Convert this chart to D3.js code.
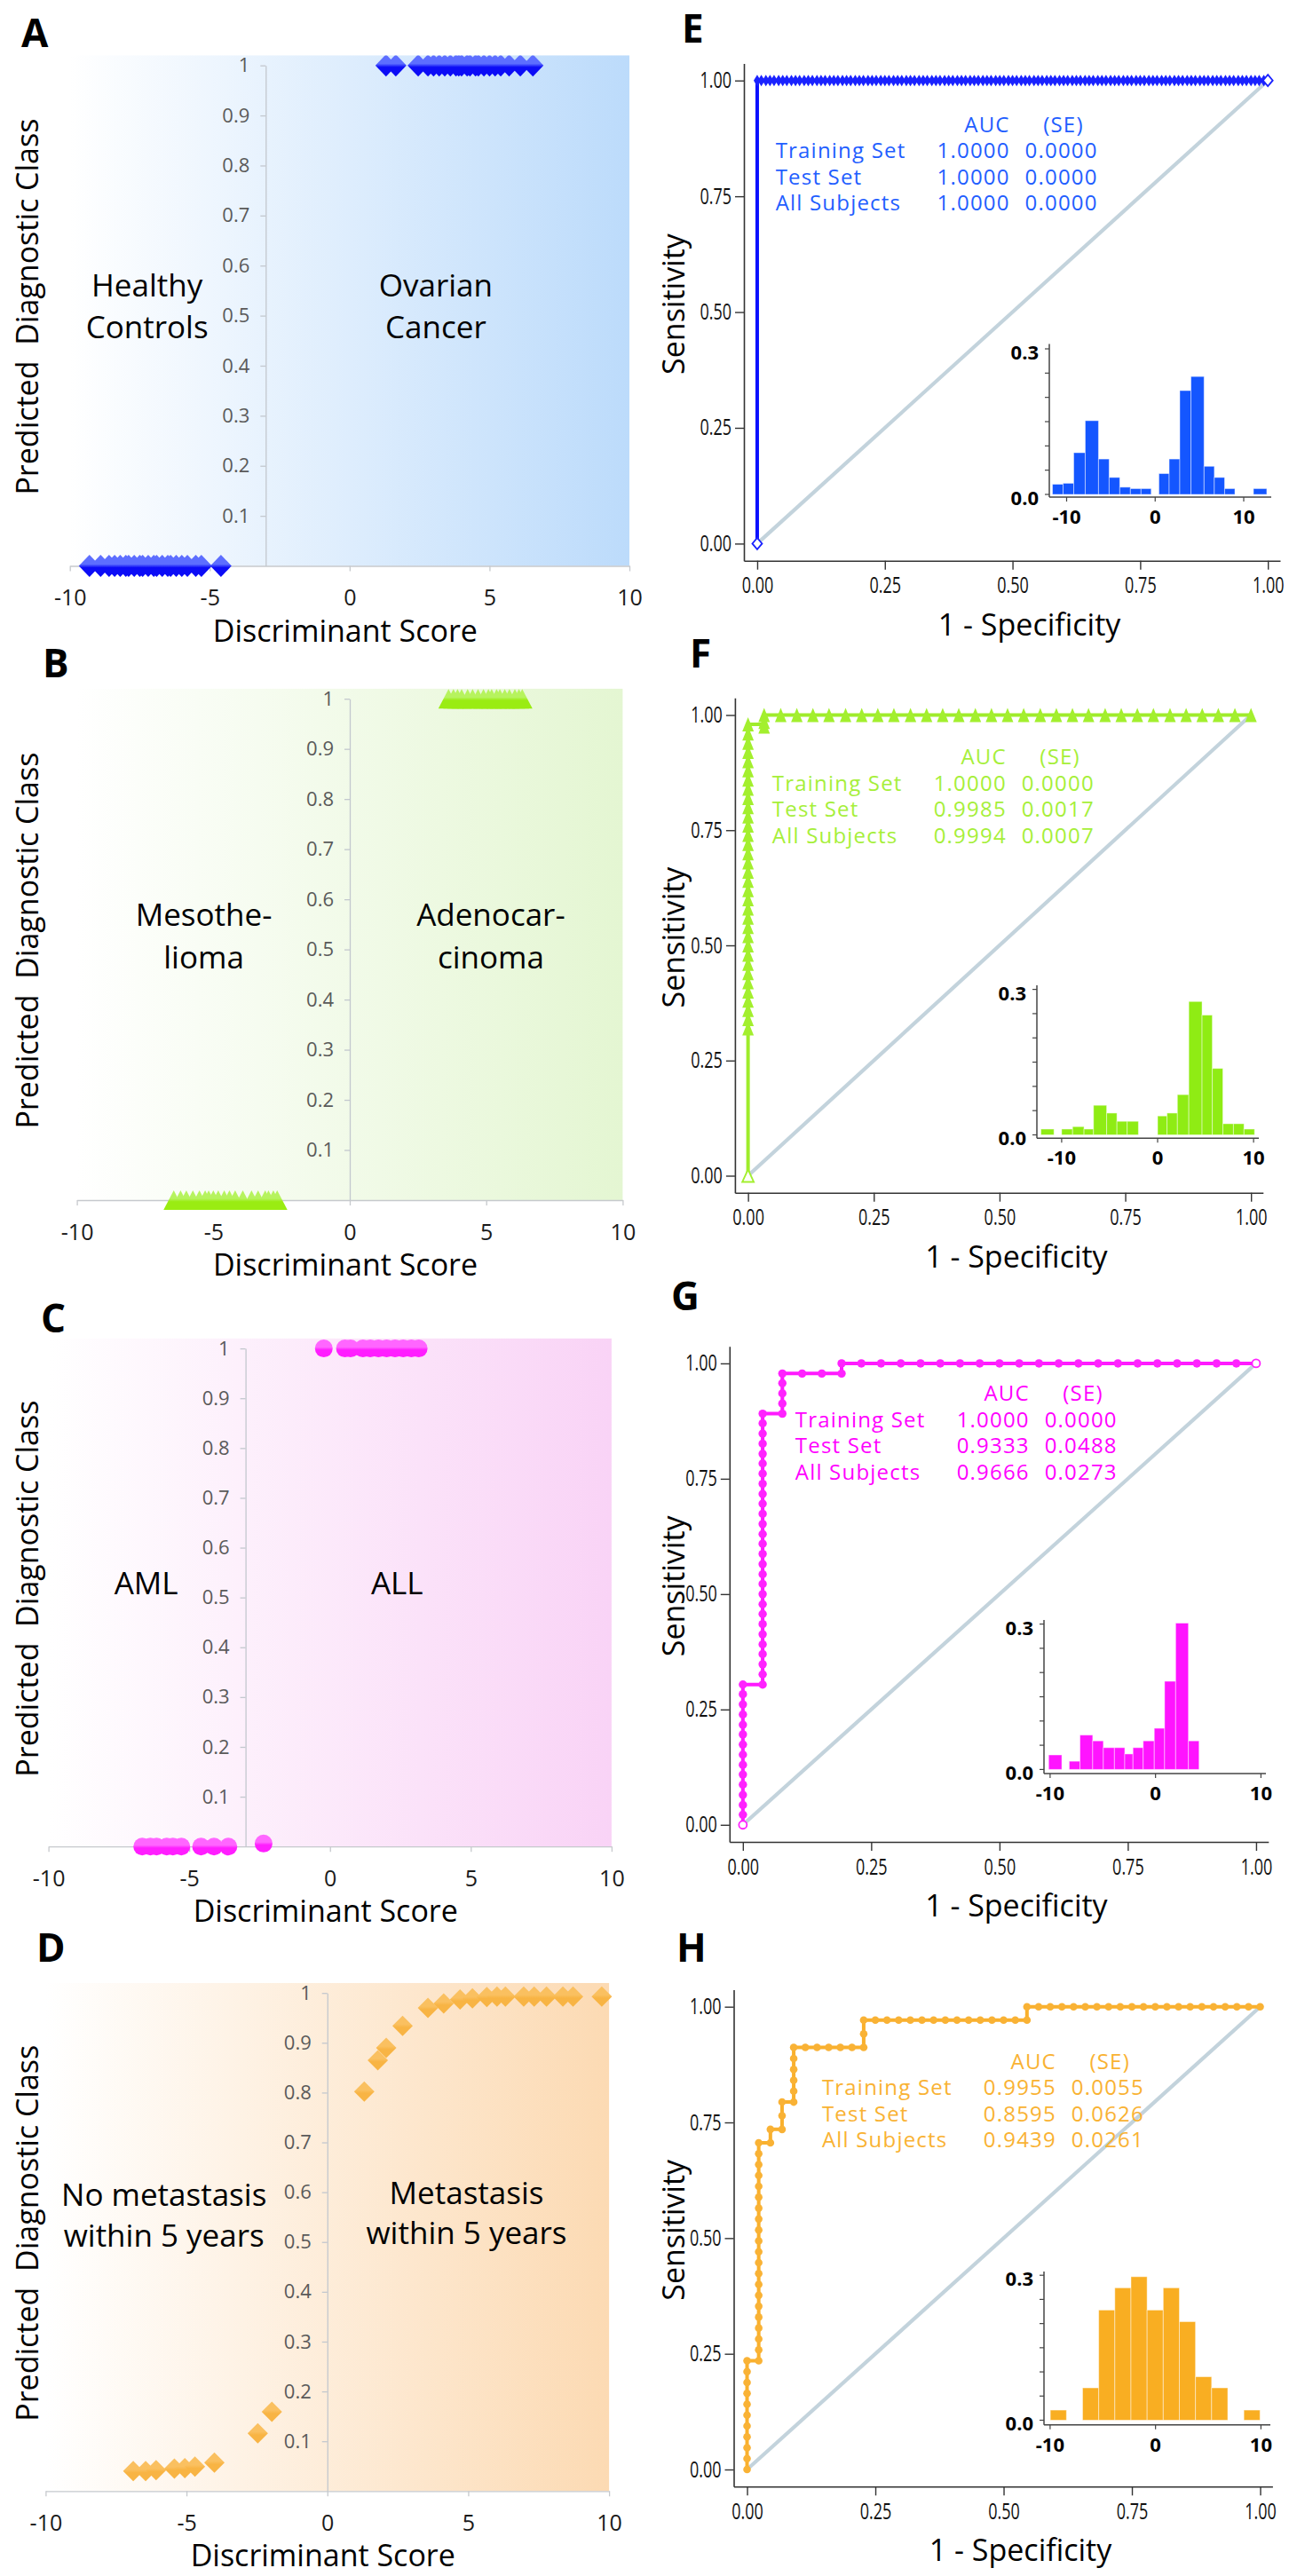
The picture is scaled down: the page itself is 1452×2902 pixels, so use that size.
<!DOCTYPE html>
<html>
<head>
<meta charset="utf-8">
<script src="https://cdn.jsdelivr.net/npm/d3@7/dist/d3.min.js"></script>
<style>
  html, body { margin:0; padding:0; background:#ffffff; }
  svg { display:block; }
  text { font-family: "Open Sans", "Noto Sans", sans-serif; }
</style>
</head>
<body>
<svg id="fig" width="1452" height="2902" viewBox="0 0 1452 2902"></svg>
<script>
// ======================= DATA =======================
const scoreTicks = [-10, -5, 0, 5, 10];
const scoreTickLabels = ["-10", "-5", "0", "5", "10"];
const classTicks = [0.1, 0.2, 0.3, 0.4, 0.5, 0.6, 0.7, 0.8, 0.9, 1];
const classTickLabels = ["0.1","0.2","0.3","0.4","0.5","0.6","0.7","0.8","0.9","1"];
const rocTicks = [0, 0.25, 0.5, 0.75, 1];
const rocTickLabels = ["0.00","0.25","0.50","0.75","1.00"];
const histXTicks = [-10, 0, 10];
const histXTickLabels = ["-10","0","10"];
const histMinorTicks = [0, 0.05, 0.1, 0.15, 0.2, 0.25, 0.3];
const histYLabelTicks = [0, 0.3];
const histYTickLabels = ["0.0","0.3"];
const aucRowNames = ["Training Set", "Test Set", "All Subjects"];
const aucHeader = ["AUC", "(SE)"];

// Panel A: ovarian cancer vs healthy controls
const healthyScores = [-9.3,-8.9,-8.6,-8.4,-8.2,-8.0,-7.9,-7.7,-7.5,-7.4,-7.2,-7.0,-6.9,-6.7,-6.5,-6.4,-6.2,-6.0,-5.8,-5.5,-5.3,-4.6];
const healthyClass = 0;
const ovarianScores = [1.3,1.65,2.45,2.8,3.0,3.2,3.4,3.6,3.8,3.9,4.0,4.2,4.3,4.5,4.6,4.8,5.0,5.2,5.4,5.7,6.1,6.55];
const ovarianClass = 1;

// Panel B: mesothelioma vs adenocarcinoma
const mesoScores = [-6.45,-6.2,-5.99,-5.75,-5.51,-5.3,-5.17,-5.0,-4.82,-4.6,-4.41,-4.2,-3.92,-3.6,-3.36,-3.1,-2.98,-2.8,-2.66];
const mesoClass = 0;
const adenoScores = [3.62,3.8,3.95,4.1,4.32,4.5,4.7,4.9,5.08,5.2,5.38,5.5,5.68,5.85,6.05,6.2,6.32];
const adenoClass = 1;

// Panel C: AML vs ALL
const amlScores = [-6.67,-6.38,-6.16,-5.8,-5.58,-5.28,-4.58,-4.12,-3.61,-2.36];
const amlClass = [0,0,0,0,0,0,0,0,0,0.006];
const allScores = [-0.22,0.53,0.73,1.17,1.43,1.72,2.01,2.31,2.6,2.89,3.15];
const allClass = 1;

// Panel D: metastasis within 5 years
const metScores = [-6.89,-6.45,-6.08,-5.43,-5.06,-4.70,-4.01,-2.47,-1.97,1.31,1.79,2.09,2.67,3.57,4.13,4.71,5.15,5.66,6.02,6.32,6.97,7.34,7.78,8.36,8.72,9.74];
const metProb   = [0.040,0.040,0.042,0.045,0.046,0.049,0.057,0.116,0.159,0.802,0.865,0.890,0.934,0.970,0.979,0.987,0.989,0.992,0.993,0.993,0.993,0.993,0.993,0.993,0.993,0.993];

// AUC tables
const aucE = ["1.0000","1.0000","1.0000"], seE = ["0.0000","0.0000","0.0000"];
const aucF = ["1.0000","0.9985","0.9994"], seF = ["0.0000","0.0017","0.0007"];
const aucG = ["1.0000","0.9333","0.9666"], seG = ["0.0000","0.0488","0.0273"];
const aucH = ["0.9955","0.8595","0.9439"], seH = ["0.0055","0.0626","0.0261"];

// ROC curves (step vertices)
const rocE_fpr = [0, 0, 1];
const rocE_tpr = [0, 1, 1];
const rocF_fpr = [0, 0, 0.032, 0.032, 1];
const rocF_tpr = [0, 0.98, 0.98, 1, 1];
const rocG_fpr = [0, 0, 0.0385, 0.0385, 0.0769, 0.0769, 0.1923, 0.1923, 1];
const rocG_tpr = [0, 0.304, 0.304, 0.891, 0.891, 0.978, 0.978, 1, 1];
const rocH_fpr = [0, 0, 0.0227, 0.0227, 0.0455, 0.0455, 0.0682, 0.0682, 0.0909, 0.0909, 0.2273, 0.2273, 0.5455, 0.5455, 1];
const rocH_tpr = [0, 0.235, 0.235, 0.706, 0.706, 0.735, 0.735, 0.794, 0.794, 0.912, 0.912, 0.971, 0.971, 1, 1];

// ROC markers (segments: a single fpr with several tpr values or vice versa)
const rocE_markers = [
  {tpr: 1, fpr: [0,.008,.017,.025,.033,.042,.05,.058,.067,.075,.083,.092,.1,.108,.117,.125,.133,.142,.15,.158,.167,.175,.183,.192,.2,.208,.217,.225,.233,.242,
                 .25,.258,.267,.275,.283,.292,.3,.308,.317,.325,.333,.342,.35,.358,.367,.375,.383,.392,.4,.408,.417,.425,.433,.442,.45,.458,.467,.475,.483,.492,
                 .5,.508,.517,.525,.533,.542,.55,.558,.567,.575,.583,.592,.6,.608,.617,.625,.633,.642,.65,.658,.667,.675,.683,.692,.7,.708,.717,.725,.733,.742,
                 .75,.758,.767,.775,.783,.792,.8,.808,.817,.825,.833,.842,.85,.858,.867,.875,.883,.892,.9,.908,.917,.925,.933,.942,.95,.958,.967,.975,.983,.992]}
];
const rocE_hollow = [[0,0],[1,1]];
const rocF_markers = [
  {fpr: 0, tpr: [.32,.34,.36,.38,.4,.42,.44,.46,.48,.5,.52,.54,.56,.58,.6,.62,.64,.66,.68,.7,.72,.74,.76,.78,.8,.82,.84,.86,.88,.9,.92,.94,.96,.98]},
  {fpr: 0.032, tpr: [.975,.985]},
  {tpr: 1, fpr: [.032,.065,.097,.129,.161,.194,.226,.258,.29,.323,.355,.387,.419,.452,.484,.516,.548,.581,.613,.645,.677,.71,.742,.774,.806,.839,.871,.903,.935,.968,1]}
];
const rocF_hollow = [[0,0]];
const rocG_markers = [
  {fpr: 0, tpr: [.022,.043,.065,.087,.109,.130,.152,.174,.196,.217,.239,.261,.283,.304]},
  {fpr: 0.0385, tpr: [.304,.326,.348,.370,.391,.413,.435,.457,.478,.5,.522,.543,.565,.587,.609,.630,.652,.674,.696,.717,.739,.761,.783,.804,.826,.848,.870,.891]},
  {fpr: 0.0769, tpr: [.891,.913,.935,.957,.978]},
  {tpr: 0.978, fpr: [.1154,.1538,.1923]},
  {tpr: 1, fpr: [.1923,.2308,.2692,.3077,.3462,.3846,.4231,.4615,.5,.5385,.5769,.6154,.6538,.6923,.7308,.7692,.8077,.8462,.8846,.9231,.9615]}
];
const rocG_hollow = [[0,0],[1,1]];
const rocH_markers = [
  {fpr: 0, tpr: [0,.0235,.047,.0705,.094,.1175,.141,.1645,.188,.2115,.235]},
  {tpr: 0.235, fpr: [.0227]},
  {fpr: 0.0227, tpr: [.2586,.2821,.3057,.3292,.3528,.3763,.3999,.4234,.447,.4705,.4941,.5176,.5412,.5647,.5883,.6118,.6354,.6589,.6825,.706]},
  {tpr: 0.706, fpr: [.0455]},
  {fpr: 0.0455, tpr: [.735]},
  {tpr: 0.735, fpr: [.0682]},
  {fpr: 0.0682, tpr: [.7645,.794]},
  {tpr: 0.794, fpr: [.0909]},
  {fpr: 0.0909, tpr: [.8175,.841,.8645,.888,.912]},
  {tpr: 0.912, fpr: [.1136,.1364,.1591,.1818,.2045,.2273]},
  {fpr: 0.2273, tpr: [.9415,.971]},
  {tpr: 0.971, fpr: [.25,.2727,.2955,.3182,.3409,.3636,.3864,.4091,.4318,.4545,.4773,.5,.5227,.5455]},
  {fpr: 0.5455, tpr: [1]},
  {tpr: 1, fpr: [.5682,.5909,.6136,.6364,.6591,.6818,.7045,.7273,.75,.7727,.7955,.8182,.8409,.8636,.8864,.9091,.9318,.9545,.9773,1]}
];
const rocH_hollow = [];

// Inset histograms of discriminant scores (bin low edge, high edge, fraction)
const histE_lo = [-11.6,-10.4,-9.2,-7.9,-6.4,-5.2,-4.0,-2.8,-1.6, 0.42,1.58,2.78,4.04,5.52,6.68,7.84, 11.1];
const histE_hi = [-10.4,-9.2,-7.9,-6.4,-5.2,-4.0,-2.8,-1.6,-0.45, 1.58,2.78,4.04,5.52,6.68,7.84,9.0, 12.6];
const histE_h  = [0.021,0.023,0.086,0.152,0.073,0.035,0.015,0.012,0.012, 0.043,0.073,0.214,0.243,0.058,0.035,0.012, 0.012];
const histF_lo = [-12.16, -10.0,-8.86,-7.67,-6.68,-5.31,-4.24,-3.17, 0,0.98,2.06,3.25,4.63,5.7,6.8,7.9,9.0];
const histF_hi = [-10.8, -8.86,-7.67,-6.68,-5.31,-4.24,-3.17,-2.0, 0.98,2.06,3.25,4.63,5.7,6.8,7.9,9.0,10.1];
const histF_h  = [0.012, 0.012,0.017,0.012,0.061,0.045,0.028,0.028, 0.039,0.045,0.083,0.275,0.247,0.137,0.023,0.023,0.012];
const histG_lo = [-10.14,-8.19,-7.17,-5.96,-4.95,-3.9,-2.92,-2.14,-1.17,-0.12,0.86,1.91,3.12];
const histG_hi = [-8.89,-7.17,-5.96,-4.95,-3.9,-2.92,-2.14,-1.17,-0.12,0.86,1.91,3.12,4.13];
const histG_h  = [0.030,0.017,0.071,0.059,0.045,0.045,0.032,0.045,0.059,0.085,0.182,0.302,0.059];
const histH_lo = [-9.98,-6.92,-5.39,-3.86,-2.33,-0.80,0.73,2.26,3.79,5.32,8.38];
const histH_hi = [-8.45,-5.39,-3.86,-2.33,-0.80,0.73,2.26,3.79,5.32,6.85,9.91];
const histH_h  = [0.021,0.067,0.228,0.274,0.297,0.228,0.274,0.204,0.090,0.067,0.021];

// ======================= DRAWING =======================
const svg = d3.select("#fig");
const defs = svg.append("defs");
svg.append("rect").attr("width",1452).attr("height",2902).attr("fill","#ffffff");

const TXT = '"Open Sans", "Noto Sans", sans-serif';
const ARIAL = '"Liberation Sans", Arial, sans-serif';
const ROC_TICK_SX = 0.72;   // horizontal squeeze for condensed tick labels

const shapePath = {
  diamond: (w, h) => `M0,${-h}L${w},0L0,${h}L${-w},0Z`,
  triangle: (w, h) => `M0,${-h/2}L${w/2},${h/2}L${-w/2},${h/2}Z`
};

function vGrad(id, c1, c2) {
  const g = defs.append("linearGradient").attr("id", id)
    .attr("x1", 0).attr("x2", 0).attr("y1", 0).attr("y2", 1);
  g.append("stop").attr("offset", 0).attr("stop-color", c1);
  g.append("stop").attr("offset", 0.42).attr("stop-color", c1);
  g.append("stop").attr("offset", 0.58).attr("stop-color", c2);
  g.append("stop").attr("offset", 1).attr("stop-color", c2);
}

function asArray(v, n) { return Array.isArray(v) ? v : new Array(n).fill(v); }

function expandSegments(segs) {
  const out = [];
  segs.forEach(s => {
    const n = Array.isArray(s.fpr) ? s.fpr.length : s.tpr.length;
    const f = asArray(s.fpr, n), t = asArray(s.tpr, n);
    for (let i = 0; i < n; i++) out.push([f[i], t[i]]);
  });
  return out;
}

function panelLetter(t, x, y) {
  svg.append("text").attr("x", x).attr("y", y).text(t)
    .attr("font-family", TXT).attr("font-weight", 700).attr("font-size", 44).attr("fill", "#000");
}

// ---------------- left panels ----------------
const leftPanels = [
  { letter: "A", letterPos: [24, 53], xRange: [78.7, 709], yRange: [637.5, 73.7], yAxisAt: -3, bgEnd: "#bcdbfb",
    shape: "diamond", size: [12, 12.5], fill: ["#5d6eff", "#0c0cf6"],
    groups: [{score: healthyScores, cls: healthyClass}, {score: ovarianScores, cls: ovarianClass}],
    labels: [{lines: ["Healthy", "Controls"], x: -7.24, y: [0.561, 0.478]}, {lines: ["Ovarian", "Cancer"], x: 3.08, y: [0.561, 0.478]}] },
  { letter: "B", letterPos: [48, 763], xRange: [86.6, 701.4], yRange: [1352, 787.2], yAxisAt: 0, bgEnd: "#e4f6d2",
    shape: "triangle", size: [23, 22], fill: ["#b6f35e", "#9aec12"],
    groups: [{score: mesoScores, cls: mesoClass}, {score: adenoScores, cls: adenoClass}],
    labels: [{lines: ["Mesothe-", "lioma"], x: -5.35, y: [0.569, 0.484]}, {lines: ["Adenocar-", "cinoma"], x: 5.17, y: [0.569, 0.484]}] },
  { letter: "C", letterPos: [46, 1501], xRange: [54.6, 688.9], yRange: [2080.2, 1519.1], yAxisAt: -3, bgEnd: "#f9d3f6",
    shape: "circle", size: [10, 10], fill: ["#ff66ff", "#ff1eff"],
    groups: [{score: amlScores, cls: amlClass}, {score: allScores, cls: allClass}],
    labels: [{lines: ["AML"], x: -6.53, y: [0.529]}, {lines: ["ALL"], x: 2.38, y: [0.529]}] },
  { letter: "D", letterPos: [41, 2210], xRange: [51.4, 686.1], yRange: [2806.3, 2245.2], yAxisAt: 0, bgEnd: "#fcdab3",
    shape: "diamond", size: [11.5, 11.5], fill: ["#fac060", "#f8b444"],
    groups: [{score: metScores, cls: metProb}],
    labels: [{lines: ["No metastasis", "within 5 years"], x: -5.8, y: [0.595, 0.513]}, {lines: ["Metastasis", "within 5 years"], x: 4.94, y: [0.599, 0.519]}] }
];

function drawLeft(c) {
  const g = svg.append("g");
  const x = d3.scaleLinear().domain([-10, 10]).range(c.xRange);
  const y = d3.scaleLinear().domain([0, 1]).range(c.yRange);
  const gid = "bg" + c.letter;
  const lg = defs.append("linearGradient").attr("id", gid).attr("x1", 0).attr("x2", 1).attr("y1", 0).attr("y2", 0);
  lg.append("stop").attr("offset", 0).attr("stop-color", "#ffffff");
  lg.append("stop").attr("offset", 1).attr("stop-color", c.bgEnd);
  const top = y(1.02), bot = y(0);
  g.append("rect").attr("x", x(-10)).attr("y", top).attr("width", x(10) - x(-10)).attr("height", bot - top)
    .attr("fill", `url(#${gid})`);

  // x axis
  const xa = g.append("g").attr("transform", `translate(0,${y(0)})`)
    .call(d3.axisBottom(x).tickValues(scoreTicks).tickFormat((d, i) => scoreTickLabels[i])
      .tickSize(6).tickSizeOuter(0).tickPadding(21));
  xa.select(".domain").attr("stroke", "#c6c9cd").attr("stroke-width", 1.3);
  xa.selectAll(".tick line").attr("stroke", "#c6c9cd").attr("stroke-width", 1.3);
  xa.selectAll(".tick text").attr("font-family", ARIAL).attr("font-size", 25).attr("fill", "#1a1a1a");

  // y axis
  const ya = g.append("g").attr("transform", `translate(${x(c.yAxisAt)},0)`)
    .call(d3.axisLeft(y).tickValues(classTicks).tickFormat((d, i) => classTickLabels[i])
      .tickSize(6).tickSizeOuter(0).tickPadding(12));
  ya.select(".domain").attr("stroke", "#c3c8ce").attr("stroke-width", 1.3);
  ya.selectAll(".tick line").attr("stroke", "#c3c8ce").attr("stroke-width", 1.3);
  ya.selectAll(".tick text").attr("font-family", ARIAL).attr("font-size", 22).attr("fill", "#5a5a5a");

  // region labels
  c.labels.forEach(l => {
    const t = g.append("text").attr("font-family", TXT).attr("font-size", 35).attr("fill", "#000")
      .attr("text-anchor", "middle");
    l.lines.forEach((ln, i) => {
      t.append("tspan").attr("x", x(l.x)).attr("y", y(l.y[i])).attr("dy", "0.36em").text(ln);
    });
  });

  // markers
  const clipId = "clip" + c.letter;
  defs.append("clipPath").attr("id", clipId).append("rect")
    .attr("x", 0).attr("y", top).attr("width", 726).attr("height", 900);
  const gradId = "mk" + c.letter;
  vGrad(gradId, c.fill[0], c.fill[1]);
  const mg = g.append("g").attr("clip-path", `url(#${clipId})`);
  c.groups.forEach(gr => {
    const cls = asArray(gr.cls, gr.score.length);
    const pts = gr.score.map((s, i) => [s, cls[i]]);
    if (c.shape === "circle") {
      mg.selectAll(null).data(pts).enter().append("circle")
        .attr("cx", d => x(d[0])).attr("cy", d => y(d[1])).attr("r", c.size[0])
        .attr("fill", `url(#${gradId})`);
    } else {
      mg.selectAll(null).data(pts).enter().append("path")
        .attr("d", shapePath[c.shape](c.size[0], c.size[1]))
        .attr("transform", d => `translate(${x(d[0])},${y(d[1])})`)
        .attr("fill", `url(#${gradId})`);
    }
  });

  // axis titles
  g.append("text").attr("x", x(0) - 5).attr("y", y(0) + 85).attr("text-anchor", "middle")
    .attr("font-family", TXT).attr("font-size", 34).attr("fill", "#000").text("Discriminant Score");
  const cy = (y(0) + y(1)) / 2 - 10;
  g.append("text").attr("transform", `translate(31,${cy}) rotate(-90)`).attr("text-anchor", "middle")
    .attr("dy", "0.36em").attr("font-family", TXT).attr("font-size", 34).attr("fill", "#000")
    .attr("xml:space", "preserve").style("white-space", "pre").text("Predicted  Diagnostic Class");

  panelLetter(c.letter, c.letterPos[0], c.letterPos[1]);
}

// ---------------- ROC panels ----------------
const rocPanels = [
  { letter: "E", letterPos: [768, 48], frame: {left: 838, right: 1442, bottom: 631.7, top: 71.4},
    lineColor: "#0a10ff", markColor: "#1a22ff", textColor: "#1f5eff", histColor: "#1456ff",
    fpr: rocE_fpr, tpr: rocE_tpr, markers: rocE_markers, hollow: rocE_hollow, shape: "diamond", size: [4, 6.5], hollowSize: [5.5, 6.5],
    auc: aucE, se: seE, textAt: [0.036, 0.905],
    inset: {axX: 1182, top: 387.5, axY: 560, xr: [1201.5, 1401], yr: [557, 393], right: 1432},
    hist: {lo: histE_lo, hi: histE_hi, h: histE_h} },
  { letter: "F", letterPos: [777, 752], frame: {left: 827.9, right: 1422.8, bottom: 1343.7, top: 786.3},
    lineColor: "#9fec2c", markColor: "#a3ef2e", textColor: "#a6ef3a", histColor: "#8fec14",
    fpr: rocF_fpr, tpr: rocF_tpr, markers: rocF_markers, hollow: rocF_hollow, shape: "triangle", size: [13, 16], hollowSize: [13, 14],
    auc: aucF, se: seF, textAt: [0.048, 0.909],
    inset: {axX: 1168, top: 1110, axY: 1282.2, xr: [1195.9, 1412.1], yr: [1278.5, 1114.6], right: 1418},
    hist: {lo: histF_lo, hi: histF_hi, h: histF_h} },
  { letter: "G", letterPos: [756, 1476], frame: {left: 821.8, right: 1428.8, bottom: 2075, top: 1516.7},
    lineColor: "#ff1aff", markColor: "#ff22ff", textColor: "#ff00ff", histColor: "#ff14ff",
    fpr: rocG_fpr, tpr: rocG_tpr, markers: rocG_markers, hollow: rocG_hollow, shape: "circle", size: [4.7], hollowSize: [4.5],
    auc: aucG, se: seG, textAt: [0.102, 0.935],
    inset: {axX: 1176, top: 1825, axY: 1998, xr: [1182.9, 1420.4], yr: [1993.4, 1829.6], right: 1426},
    hist: {lo: histG_lo, hi: histG_hi, h: histG_h} },
  { letter: "H", letterPos: [762, 2210], frame: {left: 826.5, right: 1433.4, bottom: 2801.3, top: 2241.4},
    lineColor: "#f9b02c", markColor: "#f9b235", textColor: "#f9b233", histColor: "#f9ae22",
    fpr: rocH_fpr, tpr: rocH_tpr, markers: rocH_markers, hollow: rocH_hollow, shape: "circle", size: [4.3], hollowSize: [4.3],
    auc: aucH, se: seH, textAt: [0.146, 0.882],
    inset: {axX: 1176, top: 2559, axY: 2731.7, xr: [1182.9, 1420.4], yr: [2726.5, 2563.2], right: 1431},
    hist: {lo: histH_lo, hi: histH_hi, h: histH_h} }
];

function drawRoc(c) {
  const g = svg.append("g");
  const f = c.frame;
  const x = d3.scaleLinear().domain([-0.026, 1.024]).range([f.left, f.right]);
  const y = d3.scaleLinear().domain([-0.037, 1.037]).range([f.bottom, f.top]);

  // axes
  const xa = g.append("g").attr("transform", `translate(0,${f.bottom})`)
    .call(d3.axisBottom(x).tickValues(rocTicks).tickFormat((d, i) => rocTickLabels[i])
      .tickSize(10).tickSizeOuter(0).tickPadding(9));
  const ya = g.append("g").attr("transform", `translate(${f.left},0)`)
    .call(d3.axisLeft(y).tickValues(rocTicks).tickFormat((d, i) => rocTickLabels[i])
      .tickSize(10).tickSizeOuter(0).tickPadding(4));
  [xa, ya].forEach(a => {
    a.select(".domain").attr("stroke", "#333").attr("stroke-width", 1.6);
    a.selectAll(".tick line").attr("stroke", "#333").attr("stroke-width", 1.4);
    a.selectAll(".tick text").attr("font-family", ARIAL).attr("font-size", 25).attr("fill", "#111")
      .attr("transform", `scale(${ROC_TICK_SX},1)`);
  });
  ya.selectAll(".tick text").attr("x", -14 / ROC_TICK_SX);

  // reference diagonal
  g.append("line").attr("x1", x(0)).attr("y1", y(0)).attr("x2", x(1)).attr("y2", y(1))
    .attr("stroke", "#c3d3dc").attr("stroke-width", 4.2);

  // AUC table
  const tx = x(c.textAt[0]), ty = y(c.textAt[1]);
  const tg = g.append("g").attr("font-family", ARIAL).attr("font-size", 24).attr("letter-spacing", 1.2)
    .attr("fill", c.textColor);
  const rowH = 29.4;
  tg.append("text").attr("x", tx + 264).attr("y", ty).attr("dy", "0.36em").attr("text-anchor", "end").text(aucHeader[0]);
  tg.append("text").attr("x", tx + 347).attr("y", ty).attr("dy", "0.36em").attr("text-anchor", "end").text(aucHeader[1]);
  aucRowNames.forEach((nm, i) => {
    const yy = ty + rowH * (i + 1);
    tg.append("text").attr("x", tx).attr("y", yy).attr("dy", "0.36em").text(nm);
    tg.append("text").attr("x", tx + 264).attr("y", yy).attr("dy", "0.36em").attr("text-anchor", "end").text(c.auc[i]);
    tg.append("text").attr("x", tx + 363).attr("y", yy).attr("dy", "0.36em").attr("text-anchor", "end").text(c.se[i]);
  });

  // ROC line
  const pts = c.fpr.map((v, i) => [x(v), y(c.tpr[i])]);
  g.append("path").attr("d", d3.line()(pts)).attr("fill", "none").attr("stroke", c.lineColor)
    .attr("stroke-width", 4).attr("stroke-linejoin", "miter");

  // markers
  const mk = expandSegments(c.markers);
  if (c.shape === "circle") {
    g.selectAll(null).data(mk).enter().append("circle")
      .attr("cx", d => x(d[0])).attr("cy", d => y(d[1])).attr("r", c.size[0]).attr("fill", c.markColor);
    g.selectAll(null).data(c.hollow).enter().append("circle")
      .attr("cx", d => x(d[0])).attr("cy", d => y(d[1])).attr("r", c.hollowSize[0])
      .attr("fill", "#fff").attr("stroke", c.markColor).attr("stroke-width", 1.8);
  } else {
    g.selectAll(null).data(mk).enter().append("path")
      .attr("d", shapePath[c.shape](c.size[0], c.size[1]))
      .attr("transform", d => `translate(${x(d[0])},${y(d[1])})`).attr("fill", c.markColor);
    g.selectAll(null).data(c.hollow).enter().append("path")
      .attr("d", shapePath[c.shape](c.hollowSize[0], c.hollowSize[1]))
      .attr("transform", d => `translate(${x(d[0])},${y(d[1])})`)
      .attr("fill", "#fff").attr("stroke", c.markColor).attr("stroke-width", 1.8);
  }

  // axis titles
  g.append("text").attr("x", x(0.5) + 19).attr("y", f.bottom + 84).attr("text-anchor", "middle")
    .attr("font-family", TXT).attr("font-size", 34).attr("fill", "#000").text("1 - Specificity");
  const cy = (y(0) + y(1)) / 2 - 9;
  g.append("text").attr("transform", `translate(759,${cy}) rotate(-90)`).attr("text-anchor", "middle")
    .attr("dy", "0.36em").attr("font-family", TXT).attr("font-size", 34).attr("fill", "#000").text("Sensitivity");

  // inset histogram
  const ins = c.inset;
  const ix = d3.scaleLinear().domain([-10, 10]).range(ins.xr);
  const iy = d3.scaleLinear().domain([0, 0.3]).range(ins.yr);
  const hg = g.append("g");
  const bins = c.hist.lo.map((lo, i) => ({lo, hi: c.hist.hi[i], h: c.hist.h[i]}));
  hg.selectAll(null).data(bins).enter().append("rect")
    .attr("x", d => ix(d.lo)).attr("width", d => ix(d.hi) - ix(d.lo))
    .attr("y", d => iy(d.h)).attr("height", d => iy(0) - iy(d.h))
    .attr("fill", c.histColor).attr("stroke", "rgba(255,255,255,0.45)").attr("stroke-width", 1);
  hg.append("line").attr("x1", ins.axX).attr("x2", ins.axX).attr("y1", ins.axY).attr("y2", ins.top)
    .attr("stroke", "#444").attr("stroke-width", 1.5);
  hg.append("line").attr("x1", ins.axX).attr("x2", ins.right).attr("y1", ins.axY).attr("y2", ins.axY)
    .attr("stroke", "#444").attr("stroke-width", 1.5);
  hg.selectAll(null).data(histMinorTicks).enter().append("line")
    .attr("x1", ins.axX - 5).attr("x2", ins.axX).attr("y1", d => iy(d)).attr("y2", d => iy(d))
    .attr("stroke", "#444").attr("stroke-width", 1.2);
  hg.selectAll(null).data(histXTicks).enter().append("line")
    .attr("x1", d => ix(d)).attr("x2", d => ix(d)).attr("y1", ins.axY).attr("y2", ins.axY + 5)
    .attr("stroke", "#444").attr("stroke-width", 1.2);
  hg.selectAll(null).data(histYLabelTicks).enter().append("text")
    .attr("x", ins.axX - 12).attr("y", d => iy(d) + 4).attr("dy", "0.36em").attr("text-anchor", "end")
    .attr("font-family", TXT).attr("font-weight", 700).attr("font-size", 22).attr("fill", "#000")
    .text((d, i) => histYTickLabels[i]);
  hg.selectAll(null).data(histXTicks).enter().append("text")
    .attr("x", d => ix(d)).attr("y", ins.axY + 22).attr("dy", "0.36em").attr("text-anchor", "middle")
    .attr("font-family", TXT).attr("font-weight", 700).attr("font-size", 22).attr("fill", "#000")
    .text((d, i) => histXTickLabels[i]);

  panelLetter(c.letter, c.letterPos[0], c.letterPos[1]);
}

leftPanels.forEach(drawLeft);
rocPanels.forEach(drawRoc);
</script>
</body>
</html>
